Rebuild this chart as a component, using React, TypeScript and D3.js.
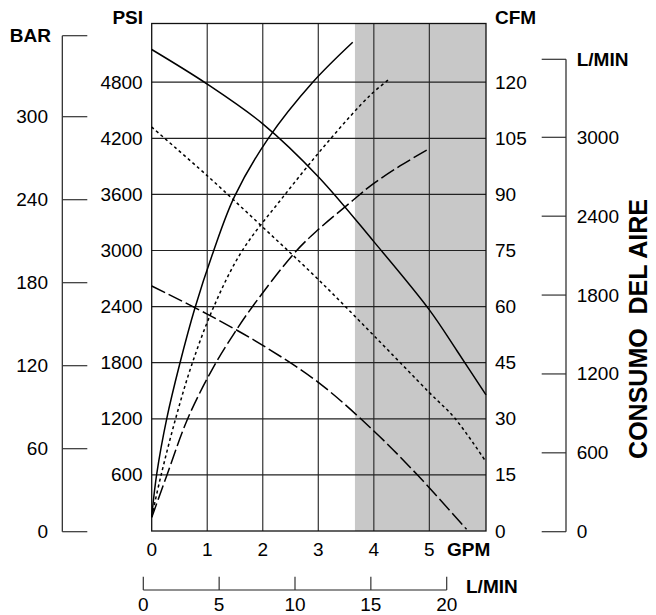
import React from "react";
import * as d3 from "d3";

// ---- data ----
const gpmTicks = [0, 1, 2, 3, 4, 5];
const psiTicks = [600, 1200, 1800, 2400, 3000, 3600, 4200, 4800];
const cfmTicks = [0, 15, 30, 45, 60, 75, 90, 105, 120];
const barTicks = [0, 60, 120, 180, 240, 300];
const lminAirTicks = [0, 600, 1200, 1800, 2400, 3000];
const lminFlowTicks = [0, 5, 10, 15, 20];
const shadeStartGpm = 3.66;

// pressure curves (GPM, PSI)
const pressureSolid: [number, number][] = [[0, 5150], [1, 4780], [2, 4355], [3, 3790], [4, 3095], [5, 2365], [5.5, 1925], [6.02, 1455]];
const pressureDotted: [number, number][] = [[0, 4320], [1, 3800], [2, 3250], [3, 2690], [4, 2090], [5, 1480], [5.46, 1205], [6.02, 740]];
const pressureDashed: [number, number][] = [[0, 2620], [1, 2320], [2, 1985], [3, 1590], [4, 1070], [4.8, 590], [5.67, 18]];
// air consumption curves (GPM, CFM)
const airSolid: [number, number][] = [[0, 3.8], [0.09, 15.2], [0.27, 30], [0.5, 44.4], [0.78, 59.7], [1.11, 74.7], [1.49, 89.4], [2.1, 105], [2.9, 120], [3.62, 130.7]];
const airDotted: [number, number][] = [[0, 3.8], [0.17, 15], [0.43, 30], [0.72, 44.4], [1.11, 59.7], [1.62, 74.7], [2.37, 89.4], [3.21, 104.7], [3.94, 116.6], [4.26, 120.6]];
const airDashed: [number, number][] = [[0, 3.6], [0.28, 15.2], [0.65, 30.1], [1.1, 43.5], [1.5, 53.2], [1.8, 59.7], [2.58, 74.5], [3.0, 80.6], [3.63, 88.5], [3.94, 92.3], [4.47, 97.6], [4.96, 101.9]];

const W = 656, H = 615;
const L = 151.7, R = 486, T = 23.5, B = 531;
const xMax = 6.02, psiMax = 5428;

const FONT = "'Liberation Sans', Arial, Helvetica, sans-serif";

export default function App() {
  const x = d3.scaleLinear().domain([0, xMax]).range([L, R]);
  const yPsi = d3.scaleLinear().domain([0, psiMax]).range([B, T]);
  const yCfm = d3.scaleLinear().domain([0, psiMax / 40]).range([B, T]);
  const yBar = d3.scaleLinear().domain([0, 300]).range([531.7, 116.7]);
  const yLmin = d3.scaleLinear().domain([0, 3000]).range([531.7, 137.3]);
  const xLmin = d3.scaleLinear().domain([0, 20]).range([143.3, 446.7]);

  const curve = d3.curveCatmullRom.alpha(0.5);
  const linePsi = d3.line<[number, number]>().x(d => x(d[0])).y(d => yPsi(d[1])).curve(curve);
  const lineCfm = d3.line<[number, number]>().x(d => x(d[0])).y(d => yCfm(d[1])).curve(curve);

  const barTop = yBar.invert(35.7);
  const lminTop = yLmin.invert(59.3);
  const fs = 19;

  return (
    <svg width={W} height={H} style={{ position: "absolute", left: 0, top: 0, background: "#fff" }} fontFamily={FONT}>
      {/* shade */}
      <rect x={x(shadeStartGpm)} y={T} width={R - x(shadeStartGpm)} height={B - T} fill="#c8c8c8" />
      {/* grid */}
      {gpmTicks.slice(1).map(g => (
        <line key={"vg" + g} x1={x(g)} x2={x(g)} y1={T} y2={B} stroke="#333" strokeWidth={1.2} />
      ))}
      {psiTicks.map(p => (
        <line key={"hg" + p} x1={L} x2={R} y1={yPsi(p)} y2={yPsi(p)} stroke="#222" strokeWidth={1.2} />
      ))}
      <rect x={L} y={T} width={R - L} height={B - T} fill="none" stroke="#111" strokeWidth={1.3} />

      {/* curves */}
      <g fill="none" stroke="#000" strokeWidth={1.5}>
        <path d={linePsi(pressureSolid) || ""} />
        <path d={linePsi(pressureDotted) || ""} strokeDasharray="3,3" />
        <path d={linePsi(pressureDashed) || ""} strokeDasharray="15,4" />
        <path d={lineCfm(airSolid) || ""} />
        <path d={lineCfm(airDotted) || ""} strokeDasharray="3,3" />
        <path d={lineCfm(airDashed) || ""} strokeDasharray="15,4" />
      </g>

      {/* axis labels */}
      <g fontSize={fs} fill="#000">
        {psiTicks.map(p => (
          <text key={"pl" + p} x={L - 9} y={yPsi(p)} textAnchor="end" dominantBaseline="central">{p}</text>
        ))}
        {cfmTicks.map(c => (
          <text key={"cl" + c} x={R + 9} y={yCfm(c)} textAnchor="start" dominantBaseline="central">{c}</text>
        ))}
        {gpmTicks.map(g => (
          <text key={"gl" + g} x={x(g)} y={549} textAnchor="middle" dominantBaseline="central">{g}</text>
        ))}
      </g>
      <text x={143} y={17.5} fontSize={fs} fontWeight="bold" textAnchor="end" dominantBaseline="central">PSI</text>
      <text x={495} y={17.5} fontSize={fs} fontWeight="bold" textAnchor="start" dominantBaseline="central">CFM</text>
      <text x={447} y={549} fontSize={fs} fontWeight="bold" textAnchor="start" dominantBaseline="central">GPM</text>

      {/* BAR axis */}
      <line x1={62.3} x2={62.3} y1={yBar(barTop)} y2={yBar(0)} stroke="#222" strokeWidth={1.2} />
      {[...barTicks, barTop].map((b, i) => (
        <line key={"bt" + i} x1={62.3} x2={87.3} y1={yBar(b)} y2={yBar(b)} stroke="#333" strokeWidth={1.2} />
      ))}
      {barTicks.map(b => (
        <text key={"bl" + b} x={48} y={yBar(b)} fontSize={fs} textAnchor="end" dominantBaseline="central">{b}</text>
      ))}
      <text x={51} y={yBar(barTop)} fontSize={fs} fontWeight="bold" textAnchor="end" dominantBaseline="central">BAR</text>

      {/* right L/MIN axis */}
      <line x1={566} x2={566} y1={yLmin(lminTop)} y2={yLmin(0)} stroke="#222" strokeWidth={1.2} />
      {[...lminAirTicks, lminTop].map((v, i) => (
        <line key={"lt" + i} x1={541.7} x2={566} y1={yLmin(v)} y2={yLmin(v)} stroke="#333" strokeWidth={1.2} />
      ))}
      {lminAirTicks.map(v => (
        <text key={"ll" + v} x={576.7} y={yLmin(v)} fontSize={fs} textAnchor="start" dominantBaseline="central">{v}</text>
      ))}
      <text x={576.7} y={yLmin(lminTop)} fontSize={fs} fontWeight="bold" textAnchor="start" dominantBaseline="central">L/MIN</text>
      <text transform="translate(638,329) rotate(-90)" fontSize={25} fontWeight="bold" textAnchor="middle" dominantBaseline="central" style={{ whiteSpace: "pre" }}>{"CONSUMO  DEL AIRE"}</text>

      {/* bottom L/MIN axis */}
      <line x1={xLmin(0)} x2={xLmin(20)} y1={590} y2={590} stroke="#222" strokeWidth={1.2} />
      {lminFlowTicks.map(v => (
        <line key={"bft" + v} x1={xLmin(v)} x2={xLmin(v)} y1={590} y2={576.7} stroke="#333" strokeWidth={1.2} />
      ))}
      {lminFlowTicks.map(v => (
        <text key={"bfl" + v} x={xLmin(v)} y={604} fontSize={fs} textAnchor="middle" dominantBaseline="central">{v}</text>
      ))}
      <text x={466} y={586} fontSize={fs} fontWeight="bold" textAnchor="start" dominantBaseline="central">L/MIN</text>
    </svg>
  );
}
